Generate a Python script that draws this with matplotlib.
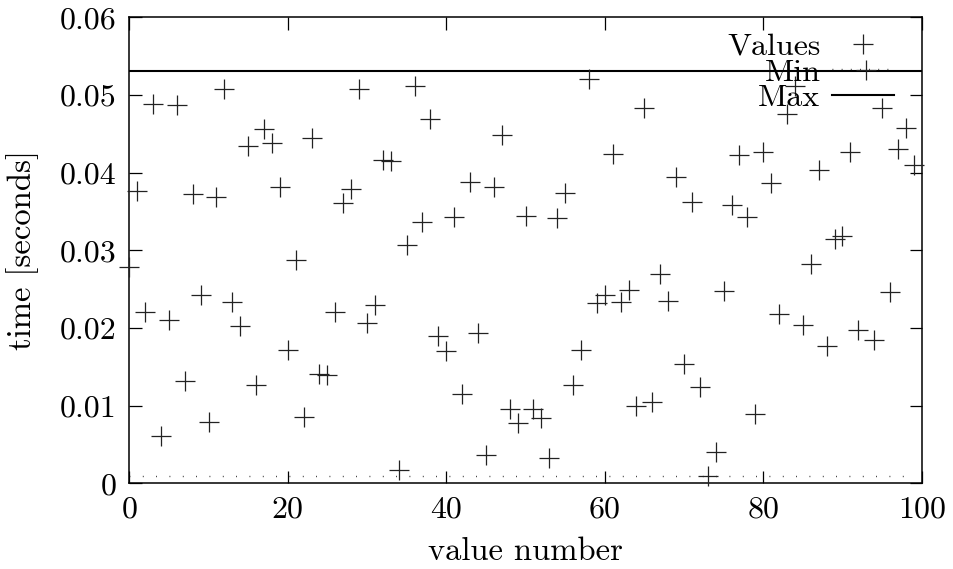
import matplotlib
matplotlib.use("Agg")
import matplotlib.pyplot as plt
from matplotlib.lines import Line2D

plt.rcParams['font.family'] = ['cmr10', 'DejaVu Serif']
plt.rcParams['axes.formatter.use_mathtext'] = True
plt.rcParams['mathtext.fontset'] = 'cm'

value_index = list(range(100))
times = [
    0.0279, 0.0376, 0.0221, 0.0488, 0.0061, 0.0210, 0.0487, 0.0132, 0.0372, 0.0242,
    0.0079, 0.0368, 0.0508, 0.0233, 0.0203, 0.0434, 0.0126, 0.0456, 0.0438, 0.0382,
    0.0172, 0.0287, 0.0085, 0.0445, 0.0141, 0.0139, 0.0221, 0.0361, 0.0379, 0.0508,
    0.0207, 0.0229, 0.0416, 0.0415, 0.0017, 0.0307, 0.0512, 0.0337, 0.0469, 0.0190,
    0.0170, 0.0343, 0.0115, 0.0388, 0.0193, 0.0037, 0.0382, 0.0448, 0.0096, 0.0077,
    0.0344, 0.0096, 0.0084, 0.0032, 0.0341, 0.0374, 0.0126, 0.0171, 0.0521, 0.0232,
    0.0243, 0.0424, 0.0234, 0.0249, 0.0099, 0.0483, 0.0105, 0.0270, 0.0235, 0.0395,
    0.0154, 0.0362, 0.0124, 0.0010, 0.0040, 0.0247, 0.0358, 0.0423, 0.0343, 0.0089,
    0.0427, 0.0387, 0.0218, 0.0476, 0.0511, 0.0204, 0.0282, 0.0403, 0.0177, 0.0314,
    0.0318, 0.0427, 0.0198, 0.0532, 0.0185, 0.0483, 0.0246, 0.0431, 0.0457, 0.0410,
]
min_time = 0.00098
max_time = 0.0531

x_ticks = [0, 20, 40, 60, 80, 100]
y_ticks = [0, 0.01, 0.02, 0.03, 0.04, 0.05, 0.06]
y_ticklabels = ['0', '0.01', '0.02', '0.03', '0.04', '0.05', '0.06']

fig = plt.figure(figsize=(9.54, 5.69), dpi=100)
ax = fig.add_axes([129.3 / 954, 1 - 483.3 / 569, (921.7 - 129.3) / 954, (483.3 - 17.3) / 569])

c = '#222222'
ax.plot(value_index, times, linestyle='none', marker='+', markersize=14.5,
        markeredgewidth=0.9, color=c, label='Values', zorder=3, clip_on=False)
ax.plot([value_index[0], value_index[-1]], [min_time, min_time], linestyle=(0, (0.6, 9)),
        linewidth=1.0, color=c, label='Min')
ax.axhline(max_time, color='black', linewidth=1.5, label='Max')

ax.set_xlim(0, 100)
ax.set_ylim(0, 0.06)
ax.set_xticks(x_ticks)
ax.set_xticklabels([str(t) for t in x_ticks])
ax.set_yticks(y_ticks)
ax.set_yticklabels(y_ticklabels)
ax.tick_params(direction='in', length=9, width=0.9, top=True, right=True,
               labelsize=23, pad=9, colors='black')
for s in ax.spines.values():
    s.set_linewidth(1.1)

ax.set_xlabel('value number', fontsize=23.5, labelpad=10)
ax.set_ylabel('time [seconds]', fontsize=23.5, labelpad=15)

handles = [
    Line2D([], [], linestyle='none', marker='+', markersize=14.5, markeredgewidth=0.9, color=c),
    Line2D([], [], linestyle=(0, (0.6, 6)), linewidth=1.0, color=c),
    Line2D([], [], color='black', linewidth=1.5),
]
leg = ax.legend(handles, ['Values', 'Min', 'Max'], loc='upper right', frameon=False,
                markerfirst=False, fontsize=23, handlelength=1.95, handletextpad=0.35,
                labelspacing=-0.08, borderaxespad=0.075, bbox_to_anchor=(0.984, 1.0))
for t in leg.get_texts():
    t.set_ha('right')

fig.savefig('out.png', dpi=100)
